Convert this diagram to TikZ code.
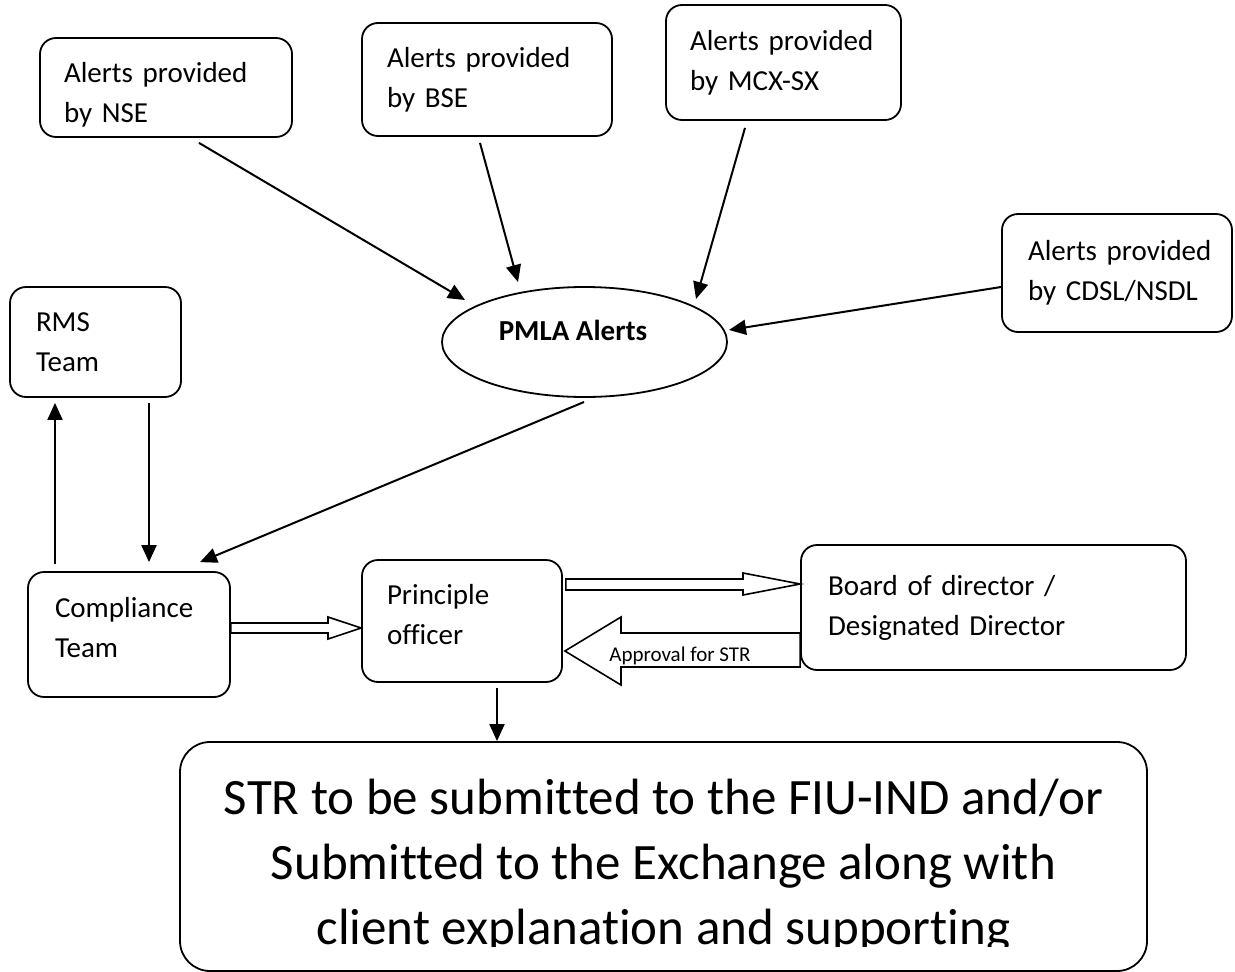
\documentclass[tikz,border=0pt]{standalone}
\usepackage{fontspec}
\setmainfont[Ligatures={CommonOff,ContextualOff}]{Carlito}
\usetikzlibrary{arrows.meta,calc,shapes.geometric}
\begin{document}
\begin{tikzpicture}[x=1pt,y=-1pt,
  box/.style={draw, line width=1.8pt, rounded corners=16pt, align=left, inner xsep=0pt, inner ysep=0pt,
    font=\fontsize{29pt}{40pt}\selectfont},
  arr/.style={-{Triangle[length=17pt,width=15pt]}, line width=2pt},
  blk/.style={draw, line width=1.6pt, fill=white, line join=miter},
  every node/.append style={text=black}]
\useasboundingbox (0,0) rectangle (1235,972);

% boxes
\node[box, minimum width=252pt, minimum height=99pt, text width=204pt] (nse) at (166,87.5) {\mbox{Alerts provided}\\\mbox{by NSE}\par\vspace*{-14pt}};
\node[box, minimum width=250pt, minimum height=113pt, text width=200pt] (bse) at (487,79.5) {\mbox{Alerts provided}\\\mbox{by BSE}};
\node[box, minimum width=235pt, minimum height=115pt, text width=187pt] (mcx) at (783.5,62.5) {\mbox{Alerts provided}\\\mbox{by MCX-SX}};
\node[box, minimum width=230pt, minimum height=118pt, text width=178pt] (cdsl) at (1117,273) {\mbox{Alerts provided}\\\mbox{by CDSL/NSDL}};
\node[box, minimum width=171pt, minimum height=110pt, text width=119pt] (rms) at (95.5,342) {RMS\\Team};
\node[box, minimum width=202pt, minimum height=125pt, text width=148pt] (comp) at (129,634.5) {Compliance\\Team\par\vspace*{14pt}};
\node[box, minimum width=200pt, minimum height=122pt, text width=150pt] (prin) at (462,621) {Principle\\officer\par\vspace*{12pt}};
\node[box, minimum width=385pt, minimum height=125pt, text width=331pt] (board) at (993.5,607.5) {\mbox{Board of director /}\\\mbox{Designated Director}};

% ellipse
\node[draw, ellipse, line width=1.8pt, minimum width=285pt, minimum height=110pt, inner sep=0pt,
  font=\fontsize{29pt}{35pt}\selectfont\bfseries, text height=10pt, text depth=14pt] (pmla) at (584.5,342) {PMLA Alerts\hspace*{23pt}};

% bottom box
\node[draw, line width=1.8pt, rounded corners=30pt, minimum width=967pt, minimum height=229pt] (str) at (663.5,856.5) {};
\begin{scope}
\clip (180,742) rectangle (1147,946);
\node[align=center, inner sep=0pt, font=\fontsize{51pt}{65pt}\selectfont] (strtext) at (663.5,866)
  {STR to be submitted to the FIU-IND and/or\\Submitted to the Exchange along with\\client explanation and supporting};
\end{scope}

% thin arrows to PMLA
\draw[arr] ($(nse.south)+(33,5)$) -- ($(pmla.center)+(-119.5,-42)$);
\draw[arr] ($(bse.south)+(-7,6)$) -- ($(pmla.center)+(-66.5,-60)$);
\draw[arr] ($(mcx.south)+(-38.5,7)$) -- ($(pmla.center)+(111.5,-43)$);
\draw[arr] ($(cdsl.west)+(0,14)$) -- ($(pmla.center)+(144.5,-12)$);
\draw[arr] ($(pmla.center)+(-0.5,60)$) -- ($(comp.north)+(71,-9)$);

% RMS <-> Compliance
\draw[arr] ($(comp.north)+(-74,-7)$) coordinate (c1) -- ($(c1 |- rms.south)+(0,5)$);
\draw[arr] ($(rms.south)+(53.5,5)$) coordinate (r1) -- ($(r1 |- comp.north)+(0,-9)$);

% Principle -> STR
\draw[arr] ($(prin.south)+(35,5)$) coordinate (p1) -- (p1 |- str.north);

% block arrows
\draw[blk] (comp.east |- 0,623) -- (328,623) -- (328,617) -- (prin.west |- 0,628) -- (328,639) -- (328,633) -- (comp.east |- 0,633) -- cycle;
\draw[blk] ($(prin.east |- 0,579)+(3,0)$) -- (743,579) -- (743,573) -- (board.west |- 0,584) -- (743,595) -- (743,590) -- ($(prin.east |- 0,590)+(3,0)$) -- cycle;
\draw[blk] (board.west |- 0,633) -- (621,633) -- (621,617) -- ($(prin.east |- 0,651)+(2,0)$) -- (621,685) -- (621,667) -- (board.west |- 0,667) -- cycle;
\node[font=\fontsize{21pt}{25pt}\selectfont, inner sep=0pt] (appr) at (680,656) {Approval for STR};
\end{tikzpicture}
\end{document}
